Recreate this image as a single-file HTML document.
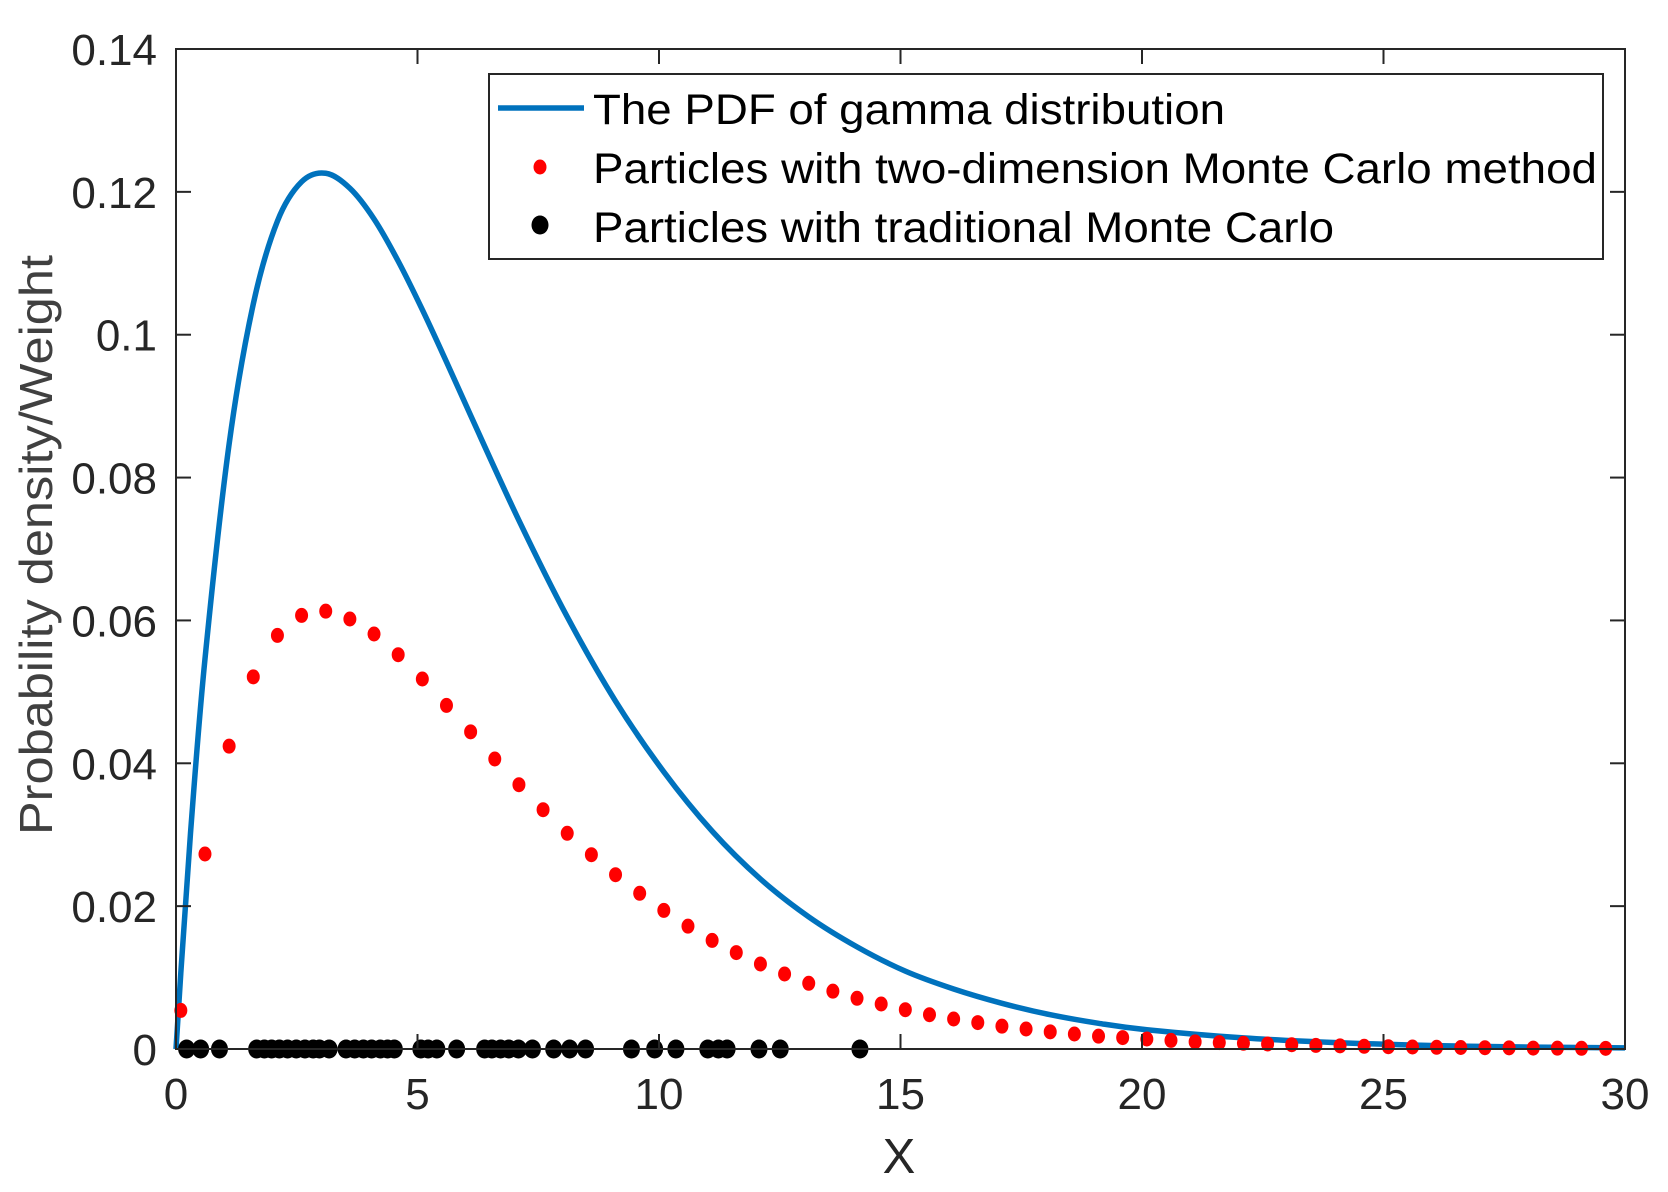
<!DOCTYPE html>
<html><head><meta charset="utf-8"><style>
html,body{margin:0;padding:0;background:#fff}
svg{display:block}
text{font-family:"Liberation Sans",Arial,sans-serif}
</style></head><body>
<svg id="chart" width="1668" height="1192" viewBox="0 0 1668 1192" xmlns="http://www.w3.org/2000/svg">
<rect x="0" y="0" width="1668" height="1192" fill="#fff"/>
<g id="plot"></g>
<g id="axes"></g>
<g id="legend">
  <rect x="489" y="74" width="1114" height="185" fill="#fff" stroke="#262626" stroke-width="2"/>
  <line x1="498" y1="108" x2="584" y2="108" stroke="#0072BD" stroke-width="5.5"/>
  <text x="593" y="124" font-size="43" fill="#000" textLength="632" lengthAdjust="spacingAndGlyphs">The PDF of gamma distribution</text>
  <ellipse cx="540" cy="167" rx="6.5" ry="7.5" fill="#ff0000"/>
  <text x="593" y="183" font-size="43" fill="#000" textLength="1004" lengthAdjust="spacingAndGlyphs">Particles with two-dimension Monte Carlo method</text>
  <ellipse cx="540" cy="225" rx="8.5" ry="9.5" fill="#000"/>
  <text x="593" y="242" font-size="43" fill="#000" textLength="741" lengthAdjust="spacingAndGlyphs">Particles with traditional Monte Carlo</text>
</g>
</svg>
<script>
const xTicks = [0, 5, 10, 15, 20, 25, 30];
const xTickLabels = ["0", "5", "10", "15", "20", "25", "30"];
const yTicks = [0, 0.02, 0.04, 0.06, 0.08, 0.1, 0.12, 0.14];
const yTickLabels = ["0", "0.02", "0.04", "0.06", "0.08", "0.1", "0.12", "0.14"];

const pdfX = [0,0.1,0.3,0.6,1.1,1.6,2.1,2.6,3.1,3.6,4.1,4.6,5.1,5.6,6.1,7.1,8.1,9.1,10.1,11.1,12.1,13.1,14.1,15.1,16.1,17.1,18.1,19.1,20.1,22.1,24.1,26.1,28.1,30];
const pdfY = [0,0.0107,0.0302,0.0546,0.0847,0.1043,0.1159,0.1214,0.1226,0.1205,0.1162,0.1103,0.1035,0.0962,0.0887,0.0740,0.0605,0.0487,0.0388,0.0305,0.0238,0.0185,0.0143,0.0109,0.0084,0.0064,0.0048,0.0036,0.0027,0.00155,0.00087,0.00048,0.00027,0.00015];

const redX = [0.1,0.6,1.1,1.6,2.1,2.6,3.1,3.6,4.1,4.6,5.1,5.6,6.1,6.6,7.1,7.6,8.1,8.6,9.1,9.6,10.1,10.6,11.1,11.6,12.1,12.6,13.1,13.6,14.1,14.6,15.1,15.6,16.1,16.6,17.1,17.6,18.1,18.6,19.1,19.6,20.1,20.6,21.1,21.6,22.1,22.6,23.1,23.6,24.1,24.6,25.1,25.6,26.1,26.6,27.1,27.6,28.1,28.6,29.1,29.6];
const redY = [0.0054,0.0273,0.0424,0.0521,0.0579,0.0607,0.0613,0.0602,0.0581,0.0552,0.0518,0.0481,0.0444,0.0406,0.0370,0.0335,0.0302,0.0272,0.0244,0.0218,0.0194,0.0172,0.0152,0.0135,0.0119,0.0105,0.0092,0.0081,0.0071,0.0063,0.0055,0.0048,0.0042,0.0037,0.0032,0.0028,0.0024,0.0021,0.0018,0.0016,0.0014,0.0012,0.0010,0.0009,0.0008,0.0007,0.0006,0.0005,0.00044,0.00038,0.00032,0.00028,0.00024,0.00021,0.00018,0.00016,0.00013,0.00012,0.0001,0.00009];

const blackX = [0.22,0.51,0.9,1.67,1.83,1.98,2.14,2.31,2.49,2.67,2.84,2.97,3.17,3.52,3.70,3.88,4.05,4.23,4.38,4.52,5.07,5.22,5.40,5.81,6.39,6.54,6.72,6.89,7.09,7.38,7.82,8.15,8.48,9.43,9.91,10.35,11.01,11.23,11.41,12.07,12.51,14.16];
const blackY = [0,0,0,0,0,0,0,0,0,0,0,0,0,0,0,0,0,0,0,0,0,0,0,0,0,0,0,0,0,0,0,0,0,0,0,0,0,0,0,0,0,0];

const L = 176, R = 1625, T = 49, B = 1049;
const xMin = 0, xMax = 30, yMin = 0, yMax = 0.14;
function sx(v){ return L + (v - xMin) / (xMax - xMin) * (R - L); }
function sy(v){ return B - (v - yMin) / (yMax - yMin) * (B - T); }

const NS = "http://www.w3.org/2000/svg";
const plot = document.getElementById('plot');
const axes = document.getElementById('axes');
function mk(tag, attrs, parent){ const e = document.createElementNS(NS, tag); for (const k in attrs) e.setAttribute(k, attrs[k]); parent.appendChild(e); return e; }

const pts = pdfX.map((x, i) => [sx(x), sy(pdfY[i])]);
let d = "M" + pts[0][0] + "," + pts[0][1];
for (let i = 0; i < pts.length - 1; i++) {
  const p0 = pts[Math.max(0, i - 1)], p1 = pts[i], p2 = pts[i + 1], p3 = pts[Math.min(pts.length - 1, i + 2)];
  const c1x = p1[0] + (p2[0] - p0[0]) / 6, c1y = p1[1] + (p2[1] - p0[1]) / 6;
  const c2x = p2[0] - (p3[0] - p1[0]) / 6, c2y = p2[1] - (p3[1] - p1[1]) / 6;
  d += " C" + c1x + "," + c1y + " " + c2x + "," + c2y + " " + p2[0] + "," + p2[1];
}
const curve = mk('path', {d: d, fill: 'none', stroke: '#0072BD', 'stroke-width': 5.5, 'stroke-linejoin': 'round'}, plot);



blackX.forEach((x, i) => {
  const c = mk('ellipse', {cx: sx(x), cy: sy(blackY[i]), rx: 8.5, ry: 9.5, fill: '#000'}, plot);
  
  
});

redX.forEach((x, i) => {
  const c = mk('ellipse', {cx: sx(x), cy: sy(redY[i]), rx: 6.5, ry: 7.5, fill: '#ff0000'}, plot);
  
  
});

const box = mk('rect', {x: L, y: T, width: R - L, height: B - T, fill: 'none', stroke: '#262626', 'stroke-width': 2}, axes);



xTicks.forEach((v, i) => {
  const x = sx(v);
  mk('line', {x1: x, y1: B, x2: x, y2: B - 15, stroke: '#262626', 'stroke-width': 2}, axes);
  mk('line', {x1: x, y1: T, x2: x, y2: T + 15, stroke: '#262626', 'stroke-width': 2}, axes);
  const t = mk('text', {x: x, y: 1109, 'font-size': 44, 'text-anchor': 'middle', fill: '#262626'}, axes);
  t.textContent = xTickLabels[i];
  
  
});
yTicks.forEach((v, i) => {
  const y = sy(v);
  mk('line', {x1: L, y1: y, x2: L + 15, y2: y, stroke: '#262626', 'stroke-width': 2}, axes);
  mk('line', {x1: R, y1: y, x2: R - 15, y2: y, stroke: '#262626', 'stroke-width': 2}, axes);
  const t = mk('text', {x: 157, y: y + 16, 'font-size': 44, 'text-anchor': 'end', fill: '#262626'}, axes);
  t.textContent = yTickLabels[i];
  
  
});

const xt = mk('text', {x: 899, y: 1173, 'font-size': 49, 'text-anchor': 'middle', fill: '#262626'}, axes);
xt.textContent = 'X';



const yt = mk('text', {x: 0, y: 0, 'font-size': 46, 'text-anchor': 'middle', fill: '#404040', transform: 'translate(52,545) rotate(-90)', textLength: 580, lengthAdjust: 'spacingAndGlyphs'}, axes);
yt.textContent = 'Probability density/Weight';


</script>
</body></html>
